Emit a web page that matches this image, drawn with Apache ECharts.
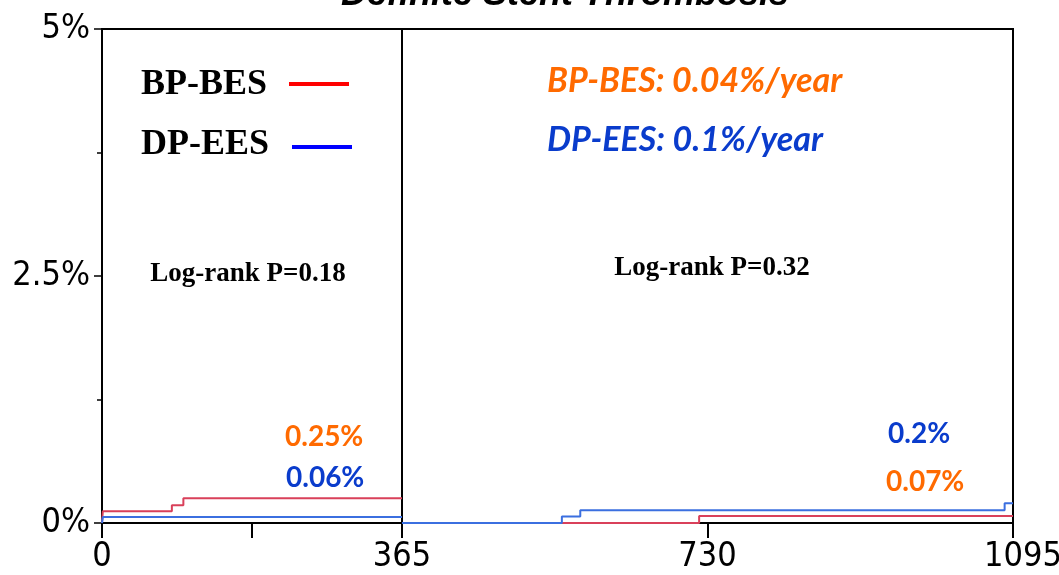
<!DOCTYPE html>
<html>
<head>
<meta charset="utf-8">
<script src="https://cdn.jsdelivr.net/npm/echarts@6/dist/echarts.min.js"></script>
<style>
  html, body { margin: 0; padding: 0; background: #fff; }
  #chart { width: 1059px; height: 575px; }
</style>
</head>
<body>
<div id="chart"></div>
<script>
// Cumulative incidence of definite stent thrombosis (%), landmark at 1 year
const bpLeftDays  = [0, 1, 85, 99, 365];
const bpLeftPct   = [0, 0.12, 0.18, 0.25, 0.25];
const dpLeftDays  = [0, 1, 365];
const dpLeftPct   = [0, 0.06, 0.06];
const bpRightDays = [365, 720, 1095];
const bpRightPct  = [0, 0.07, 0.07];
const dpRightDays = [365, 556, 578, 1085, 1095];
const dpRightPct  = [0, 0.065, 0.13, 0.2, 0.2];

const xTickLabels = { 0: '0', 365: '365', 730: '730', 1095: '1095' };
const yTickLabels = { 0: '0%', 2.5: '2.5%', 5: '5%' };

const groupNames = ['BP-BES', 'DP-EES'];
const annualRates = ['0.04%/year', '0.1%/year'];
const pValues = ['0.18', '0.32'];

const RED = '#d9405a', BLUE = '#3b6fe0';
const ORANGE = '#ff6a00', DARKBLUE = '#0a3ccc';

const pairs = (xs, ys) => xs.map((x, i) => [x, ys[i]]);
const last = arr => arr[arr.length - 1];

const chart = echarts.init(document.getElementById('chart'), null, { renderer: 'canvas' });

const axisFont = { fontFamily: 'DejaVu Sans Condensed, DejaVu Sans', fontSize: 34, color: '#000' };

function yAxis(gridIndex, show) {
  return {
    gridIndex, type: 'value', min: 0, max: 5, interval: 2.5, show,
    axisLine: { show: true, lineStyle: { color: '#000', width: 2 } },
    axisTick: { show: true, length: 8, lineStyle: { color: '#000', width: 1.5 } },
    minorTick: { show: true, splitNumber: 2, length: 5, lineStyle: { color: '#000', width: 1.5 } },
    splitLine: { show: false },
    axisLabel: Object.assign({ margin: 12, formatter: v => yTickLabels[v] || '' }, axisFont)
  };
}

function stepSeries(name, xi, yi, data, color) {
  return {
    name, type: 'line', xAxisIndex: xi, yAxisIndex: yi, data, step: 'end',
    symbol: 'none', animation: false, z: 5,
    lineStyle: { color, width: 2 }
  };
}

function txt(text, x, y, font, color, align) {
  return {
    type: 'text', x, y, z: 10,
    style: { text, font, fill: color, textAlign: align || 'left', textVerticalAlign: 'middle' }
  };
}

chart.setOption({
  backgroundColor: '#fff',
  animation: false,
  grid: [
    { left: 102, right: 657, top: 29, bottom: 52, outerBoundsMode: 'none', containLabel: false,
      show: true, borderColor: '#000', borderWidth: 2 },
    { left: 402, right: 46, top: 29, bottom: 52, outerBoundsMode: 'none', containLabel: false,
      show: true, borderColor: '#000', borderWidth: 2 }
  ],
  xAxis: [
    {
      gridIndex: 0, type: 'value', min: 0, max: 365, interval: 182.5,
      axisLine: { lineStyle: { color: '#000', width: 2 } },
      axisTick: { length: 15, lineStyle: { color: '#000', width: 2 } },
      splitLine: { show: false },
      axisLabel: Object.assign({ margin: 17, showMaxLabel: true, formatter: v => xTickLabels[v] || '' }, axisFont)
    },
    {
      gridIndex: 1, type: 'value', min: 365, max: 1095, interval: 365,
      axisLine: { lineStyle: { color: '#000', width: 2 } },
      axisTick: { length: 15, lineStyle: { color: '#000', width: 2 } },
      splitLine: { show: false },
      axisLabel: Object.assign({
        margin: 17, showMinLabel: false, showMaxLabel: true,
        formatter: v => v === 1095 ? '{r|' + xTickLabels[v] + '}' : (xTickLabels[v] || ''),
        rich: { r: Object.assign({ padding: [0, 0, 0, 20] }, axisFont) }
      }, axisFont)
    }
  ],
  yAxis: [yAxis(0, true), yAxis(1, false)],
  series: [
    stepSeries(groupNames[0], 0, 0, pairs(bpLeftDays, bpLeftPct), RED),
    stepSeries(groupNames[1], 0, 0, pairs(dpLeftDays, dpLeftPct), BLUE),
    stepSeries(groupNames[0], 1, 1, pairs(bpRightDays, bpRightPct), RED),
    stepSeries(groupNames[1], 1, 1, pairs(dpRightDays, dpRightPct), BLUE)
  ],
  graphic: [
    txt('Definite Stent Thrombosis', 565, -5, 'italic bold 36px "Liberation Sans", Arial', '#000', 'center'),
    // legend
    txt(groupNames[0], 141, 85, 'bold 36px "Liberation Serif", serif', '#000'),
    txt(groupNames[1], 141, 145, 'bold 36px "Liberation Serif", serif', '#000'),
    { type: 'line', z: 10, shape: { x1: 289, y1: 84, x2: 349, y2: 84 }, style: { stroke: '#ff0000', lineWidth: 4 } },
    { type: 'line', z: 10, shape: { x1: 292, y1: 147, x2: 352, y2: 147 }, style: { stroke: '#0000ff', lineWidth: 4 } },
    // annual rates
    txt(groupNames[0] + ': ' + annualRates[0], 547, 81, 'italic bold 34px Lato, sans-serif', ORANGE),
    txt(groupNames[1] + ': ' + annualRates[1], 547, 140, 'italic bold 34px Lato, sans-serif', DARKBLUE),
    // log-rank
    txt('Log-rank P=' + pValues[0], 248, 274, 'bold 27px "Liberation Serif", serif', '#000', 'center'),
    txt('Log-rank P=' + pValues[1], 712, 268, 'bold 27px "Liberation Serif", serif', '#000', 'center'),
    // end-point values
    txt(last(bpLeftPct) + '%', 285, 437, 'bold 28px Lato, sans-serif', ORANGE),
    txt(last(dpLeftPct) + '%', 286, 478, 'bold 28px Lato, sans-serif', DARKBLUE),
    txt(last(dpRightPct) + '%', 888, 434, 'bold 28px Lato, sans-serif', DARKBLUE),
    txt(last(bpRightPct) + '%', 886, 482, 'bold 28px Lato, sans-serif', ORANGE)
  ]
});
</script>
</body>
</html>
